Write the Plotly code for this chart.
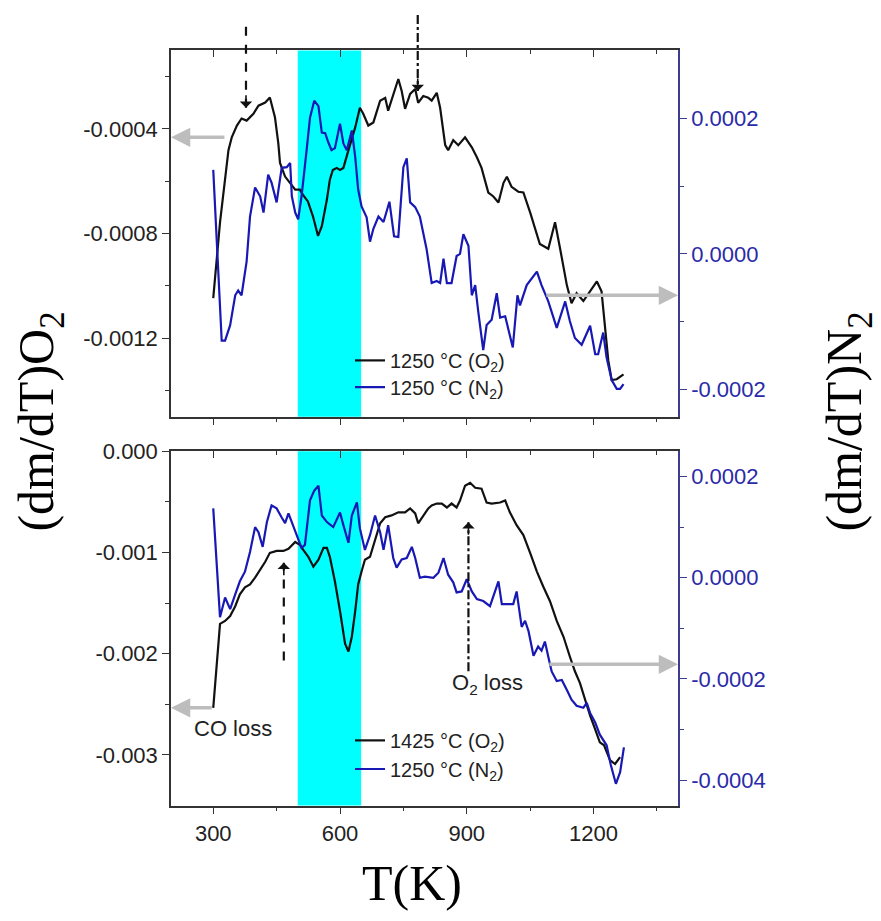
import plotly.graph_objects as go

# ---------------- data ----------------
# top panel: 1250 °C sample in O2 (left axis)
top_o2_T = [300, 316, 336, 344, 356, 367, 379, 395, 407, 423, 434, 446, 454, 458, 470, 482, 494, 505, 512, 524,
            536, 548, 557, 569, 576, 583, 592, 600, 608, 620, 636, 647, 655, 667, 679, 695, 707, 714, 726, 738,
            746, 754, 766, 778, 785, 797, 809, 817, 829, 837, 849, 856, 868, 880, 896, 912, 924, 935, 951, 963,
            975, 987, 995, 1006, 1022, 1034, 1050, 1062, 1073, 1093, 1109, 1121, 1137, 1148, 1160, 1176, 1192, 1208, 1219, 1227,
            1235, 1243, 1255, 1271]
top_o2_dmdT = [-0.001047, -0.000757, -0.000481, -0.000431, -0.000387, -0.000360, -0.000368, -0.000342, -0.000311, -0.000299,
               -0.000280, -0.000355, -0.000455, -0.000530, -0.000582, -0.000606, -0.000632, -0.000632, -0.000651, -0.000677,
               -0.000734, -0.000809, -0.000772, -0.000670, -0.000594, -0.000557, -0.000549, -0.000557, -0.000549, -0.000481,
               -0.000394, -0.000319, -0.000342, -0.000387, -0.000375, -0.000292, -0.000281, -0.000330, -0.000266, -0.000209,
               -0.000255, -0.000323, -0.000266, -0.000247, -0.000300, -0.000274, -0.000281, -0.000292, -0.000262, -0.000319,
               -0.000462, -0.000481, -0.000443, -0.000462, -0.000432, -0.000470, -0.000508, -0.000549, -0.000643, -0.000658,
               -0.000681, -0.000606, -0.000583, -0.000621, -0.000640, -0.000643, -0.000719, -0.000783, -0.000840, -0.000858,
               -0.000757, -0.000858, -0.000998, -0.001066, -0.001028, -0.001058, -0.001021, -0.000983, -0.001021, -0.001160,
               -0.001285, -0.001360, -0.001357, -0.001338]

# top panel: 1250 °C sample in N2 (right axis)
top_n2_T = [300, 308, 312, 320, 328, 340, 352, 359, 367, 379, 387, 399, 411, 419, 430, 438, 450, 462, 474, 482,
            486, 494, 501, 509, 521, 529, 539, 549, 557, 565, 572, 580, 588, 600, 608, 616, 628, 636, 643, 651,
            663, 671, 679, 691, 703, 717, 728, 738, 750, 758, 766, 778, 789, 805, 817, 829, 837, 845, 853, 864,
            876, 884, 892, 904, 912, 920, 927, 939, 947, 959, 971, 979, 991, 1002, 1009, 1020, 1026, 1042, 1054, 1066,
            1077, 1093, 1113, 1133, 1144, 1156, 1172, 1192, 1204, 1211, 1223, 1231, 1243, 1255, 1263, 1271]
top_n2_dmdT = [0.000124, 0.000018, -0.000041, -0.000128, -0.000128, -0.000105, -0.000061, -0.000054, -0.000061, -0.000011,
               0.000055, 0.000098, 0.000085, 0.000061, 0.000117, 0.000105, 0.000076, 0.000127, 0.000128, 0.000134,
               0.000085, 0.000061, 0.000051, 0.000085, 0.000153, 0.000201, 0.000226, 0.000218, 0.000179, 0.000178,
               0.000165, 0.000153, 0.000156, 0.000192, 0.000163, 0.000153, 0.000182, 0.000143, 0.000095, 0.000070,
               0.000054, 0.000018, 0.000037, 0.000055, 0.000047, 0.000077, 0.000026, 0.000025, 0.000128, 0.000141,
               0.000076, 0.000069, 0.000055, 0.000007, -0.000043, -0.000040, -0.000043, -0.000007, -0.000043, -0.000043,
               -0.000003, 0.000000, 0.000029, 0.000012, -0.000061, -0.000046, -0.000084, -0.000142, -0.000105, -0.000097,
               -0.000058, -0.000094, -0.000092, -0.000119, -0.000138, -0.000061, -0.000076, -0.000046, -0.000036, -0.000026,
               -0.000046, -0.000070, -0.000109, -0.000070, -0.000099, -0.000124, -0.000134, -0.000106, -0.000148, -0.000148,
               -0.000116, -0.000153, -0.000186, -0.000199, -0.000199, -0.000192]

# bottom panel: 1425 °C sample in O2 (left axis)
bot_o2_T = [300, 308, 316, 328, 340, 352, 363, 375, 387, 399, 411, 423, 434, 450, 466, 478, 494, 505, 513, 525,
            537, 549, 561, 569, 576, 588, 600, 612, 620, 628, 636, 643, 651, 659, 671, 683, 695, 707, 722, 738,
            754, 766, 778, 785, 797, 809, 817, 829, 841, 853, 864, 876, 884, 896, 908, 920, 935, 947, 959, 979,
            991, 1002, 1018, 1034, 1050, 1066, 1081, 1097, 1113, 1129, 1144, 1156, 1168, 1180, 1192, 1204, 1215, 1225, 1239, 1251,
            1263]
bot_o2_dmdT = [-0.002535, -0.002096, -0.001706, -0.001677, -0.001628, -0.001531, -0.001414, -0.001345, -0.001316, -0.001248,
               -0.001170, -0.001092, -0.001004, -0.000985, -0.000985, -0.000965, -0.000897, -0.000926, -0.000975, -0.001043,
               -0.001141, -0.001072, -0.000955, -0.000955, -0.001043, -0.001287, -0.001579, -0.001901, -0.001979, -0.001833,
               -0.001579, -0.001316, -0.001189, -0.001072, -0.001043, -0.000877, -0.000712, -0.000653, -0.000634, -0.000604,
               -0.000604, -0.000565, -0.000614, -0.000712, -0.000634, -0.000565, -0.000536, -0.000517, -0.000517, -0.000556,
               -0.000517, -0.000556, -0.000487, -0.000341, -0.000312, -0.000361, -0.000370, -0.000507, -0.000517, -0.000507,
               -0.000487, -0.000604, -0.000731, -0.000829, -0.001004, -0.001189, -0.001336, -0.001482, -0.001677, -0.001833,
               -0.002028, -0.002174, -0.002291, -0.002457, -0.002613, -0.002749, -0.002876, -0.002905, -0.003051, -0.003090,
               -0.003022]

# bottom panel: 1250 °C sample in N2 (right axis)
bot_n2_T = [300, 308, 316, 328, 340, 352, 363, 375, 387, 399, 407, 417, 427, 438, 450, 462, 470, 478, 486, 498,
            509, 517, 529, 539, 549, 557, 569, 584, 600, 608, 620, 628, 640, 647, 659, 671, 683, 695, 703, 714,
            726, 734, 746, 758, 770, 778, 789, 801, 821, 833, 845, 856, 868, 876, 888, 900, 912, 924, 939, 955,
            967, 975, 983, 998, 1010, 1018, 1026, 1030, 1038, 1046, 1058, 1069, 1077, 1085, 1093, 1101, 1113, 1125, 1137, 1148,
            1160, 1176, 1184, 1192, 1204, 1215, 1231, 1241, 1253, 1263, 1272]
bot_n2_dmdT = [0.000137, 0.000039, -0.000078, -0.000039, -0.000062, -0.000033, -0.000007, 0.000012, 0.000051, 0.000100,
               0.000090, 0.000061, 0.000110, 0.000143, 0.000137, 0.000119, 0.000108, 0.000127, 0.000110, 0.000084,
               0.000059, 0.000065, 0.000153, 0.000172, 0.000182, 0.000123, 0.000110, 0.000100, 0.000129, 0.000104,
               0.000069, 0.000123, 0.000149, 0.000098, 0.000055, 0.000084, 0.000123, 0.000090, 0.000055, 0.000104,
               0.000039, 0.000020, 0.000036, 0.000039, 0.000061, 0.000039, 0.000000, 0.000002, 0.000000, 0.000010,
               0.000039, 0.000006, -0.000009, -0.000029, -0.000027, -0.000003, -0.000027, -0.000042, -0.000046, -0.000056,
               -0.000029, -0.000007, -0.000052, -0.000052, -0.000052, -0.000027, -0.000078, -0.000097, -0.000085, -0.000105,
               -0.000154, -0.000136, -0.000144, -0.000126, -0.000156, -0.000185, -0.000204, -0.000202, -0.000222, -0.000241,
               -0.000253, -0.000257, -0.000247, -0.000267, -0.000286, -0.000310, -0.000331, -0.000370, -0.000407, -0.000384,
               -0.000335]

# highlighted temperature window (K)
band_T = [500, 650]

# tick values / labels
x_tickvals = [300, 600, 900, 1200]
x_ticktext = ["300", "600", "900", "1200"]
x_minor = [450, 750, 1050, 1350]
top_left_tickvals = [-0.0004, -0.0008, -0.0012]
top_left_ticktext = ["-0.0004", "-0.0008", "-0.0012"]
top_left_minor = [-0.0002, -0.0006, -0.0010, -0.0014]
top_right_tickvals = [0.0002, 0.0, -0.0002]
top_right_ticktext = ["0.0002", "0.0000", "-0.0002"]
top_right_minor = [0.0001, -0.0001]
bot_left_tickvals = [0.0, -0.001, -0.002, -0.003]
bot_left_ticktext = ["0.000", "-0.001", "-0.002", "-0.003"]
bot_left_minor = [-0.0005, -0.0015, -0.0025]
bot_right_tickvals = [0.0002, 0.0, -0.0002, -0.0004]
bot_right_ticktext = ["0.0002", "0.0000", "-0.0002", "-0.0004"]
bot_right_minor = [0.0001, -0.0001, -0.0003]

# ---------------- styling ----------------
W, H = 881, 921
XDOM = [171 / W, 678 / W]
TOP_DOM = [1 - 410 / H, 1 - 39 / H]
BOT_DOM = [1 - 804 / H, 1 - 445 / H]
XR = [200, 1400]
BLACK = "#111111"
BLUE = "#1818b4"
AX = "#333333"
RAX = "#3d3d8f"
RTXT = "#2a2aa8"
GRAY = "#bdbdbd"
SANS = "Liberation Sans, Arial, sans-serif"
SERIF = "Liberation Serif, Times New Roman, serif"
TICKF = dict(family=SANS, size=22, color="#222222")
RTICKF = dict(family=SANS, size=22, color=RTXT)
LEGF = dict(family=SANS, size=20, color="#222222")

fig = go.Figure()

fig.add_trace(go.Scatter(x=top_o2_T, y=top_o2_dmdT, xaxis="x2", yaxis="y3", mode="lines",
                         line=dict(color=BLACK, width=2.2), name="1250 °C (O<sub>2</sub>)", legend="legend"))
fig.add_trace(go.Scatter(x=top_n2_T, y=top_n2_dmdT, xaxis="x2", yaxis="y4", mode="lines",
                         line=dict(color=BLUE, width=2.2), name="1250 °C (N<sub>2</sub>)", legend="legend2"))
fig.add_trace(go.Scatter(x=bot_o2_T, y=bot_o2_dmdT, xaxis="x", yaxis="y", mode="lines",
                         line=dict(color=BLACK, width=2.2), name="1425 °C (O<sub>2</sub>)", legend="legend3"))
fig.add_trace(go.Scatter(x=bot_n2_T, y=bot_n2_dmdT, xaxis="x", yaxis="y2", mode="lines",
                         line=dict(color=BLUE, width=2.2), name="1250 °C (N<sub>2</sub>)", legend="legend4"))
# carriers for the top-border axes
fig.add_trace(go.Scatter(x=[None], y=[None], xaxis="x3", yaxis="y", showlegend=False, hoverinfo="skip"))
fig.add_trace(go.Scatter(x=[None], y=[None], xaxis="x4", yaxis="y3", showlegend=False, hoverinfo="skip"))


def xax(anchor, side, ticks, labels, overlay=None):
    d = dict(domain=XDOM, anchor=anchor, range=XR, side=side, showline=True, linecolor=AX, linewidth=1.5,
             ticks=ticks, ticklen=7, tickwidth=1.3, tickcolor=AX, tickmode="array", tickvals=x_tickvals,
             ticktext=x_ticktext, showticklabels=labels, tickfont=TICKF, showgrid=False, zeroline=False,
             minor=dict(ticks=ticks, ticklen=4, tickwidth=1.2, tickcolor=AX, tickmode="array", tickvals=x_minor))
    if overlay:
        d["overlaying"] = overlay
    return d


def yax(dom, anchor, rng, tv, tt, mn, side, lc, tf, overlay=None):
    d = dict(domain=dom, anchor=anchor, range=rng, side=side, showline=True, linecolor=lc, linewidth=1.5,
             ticks="outside", ticklen=7, tickwidth=1.3, tickcolor=lc, tickmode="array", tickvals=tv, ticktext=tt,
             tickfont=tf, showgrid=False, zeroline=False,
             minor=dict(ticks="outside", ticklen=4, tickwidth=1.2, tickcolor=lc, tickmode="array", tickvals=mn))
    if overlay:
        d["overlaying"] = overlay
    return d


def leg(ypix):
    return dict(x=350 / W, y=1 - ypix / H, xanchor="left", yanchor="middle", bgcolor="rgba(0,0,0,0)",
                font=LEGF, borderwidth=0)


fig.update_layout(
    width=W, height=H, margin=dict(l=0, r=0, t=0, b=0),
    paper_bgcolor="white", plot_bgcolor="white",
    xaxis=xax("y", "bottom", "outside", True),
    xaxis2=xax("y3", "bottom", "outside", False),
    xaxis3=xax("y", "top", "inside", False, overlay="x"),
    xaxis4=xax("y3", "top", "inside", False, overlay="x2"),
    yaxis=yax(BOT_DOM, "x", [-0.0035, 0.0], bot_left_tickvals, bot_left_ticktext, bot_left_minor, "left", AX, TICKF),
    yaxis2=yax(BOT_DOM, "x", [-0.00045, 0.00025], bot_right_tickvals, bot_right_ticktext, bot_right_minor,
               "right", RAX, RTICKF, overlay="y"),
    yaxis3=yax(TOP_DOM, "x2", [-0.0015, -0.0001], top_left_tickvals, top_left_ticktext, top_left_minor, "left", AX, TICKF),
    yaxis4=yax(TOP_DOM, "x2", [-0.00024, 0.0003], top_right_tickvals, top_right_ticktext, top_right_minor,
               "right", RAX, RTICKF, overlay="y3"),
    legend=leg(353),
    legend2=leg(380),
    legend3=leg(738),
    legend4=leg(767),
    showlegend=True,
)

# highlighted band in both panels
fig.add_shape(type="rect", xref="x2", yref="y3 domain", x0=band_T[0], x1=band_T[1], y0=0, y1=1,
              fillcolor="#00ffff", line=dict(width=0), layer="below")
fig.add_shape(type="rect", xref="x", yref="y domain", x0=band_T[0], x1=band_T[1], y0=0, y1=1,
              fillcolor="#00ffff", line=dict(width=0), layer="below")


# grey arrows pointing to the relevant axis
def grey_arrow(xr, yr, x_head, x_tail, yv):
    fig.add_annotation(x=x_head, y=yv, ax=x_tail, ay=yv, xref=xr, yref=yr, axref=xr, ayref=yr,
                       text="", showarrow=True, arrowhead=2, arrowsize=1.1, arrowwidth=3.5, arrowcolor=GRAY)


grey_arrow("x2", "y3", 200, 330, -0.000432)
grey_arrow("x2", "y4", 1400, 1085, -0.000061)
grey_arrow("x", "y", 200, 300, -0.002535)
grey_arrow("x", "y2", 1400, 1092, -0.000171)


# black dashed marker arrows
def marker_arrow(xr, xv, y_tail, y_tip, dash):
    fig.add_shape(type="line", xref=xr, yref="paper", x0=xv, x1=xv, y0=y_tail, y1=y_tip,
                  line=dict(color=BLACK, width=2.2, dash=dash))
    direction = 1 if y_tip > y_tail else -1
    fig.add_annotation(x=xv, y=y_tip, xref=xr, yref="paper", ax=0, ay=14 * direction, text="",
                       showarrow=True, arrowhead=1, arrowsize=1.3, arrowwidth=1.6, arrowcolor=BLACK)


marker_arrow("x2", 377.5, 1 - 15 / H, 1 - 97 / H, "dash")
marker_arrow("x2", 784, 1 - 3 / H, 1 - 80 / H, "dashdot")
marker_arrow("x", 467, 1 - 657 / H, 1 - 558 / H, "dash")
marker_arrow("x", 904, 1 - 668 / H, 1 - 517 / H, "dashdot")

# text labels
fig.add_annotation(x=347, y=1 - 726 / H, xref="x", yref="paper", text="CO loss", showarrow=False,
                   xanchor="center", yanchor="middle", font=dict(family=SANS, size=22, color="#222222"))
fig.add_annotation(x=948, y=1 - 681 / H, xref="x", yref="paper", text="O<sub>2</sub> loss", showarrow=False,
                   xanchor="center", yanchor="middle", font=dict(family=SANS, size=22, color="#222222"))

# axis titles
fig.add_annotation(x=40 / W, y=1 - 415 / H, xref="paper", yref="paper", text="(dm/dT)O<sub>2</sub>",
                   textangle=-90, showarrow=False, xanchor="center", yanchor="middle",
                   font=dict(family=SERIF, size=50, color="black"))
fig.add_annotation(x=848 / W, y=1 - 415 / H, xref="paper", yref="paper", text="(dm/dT)N<sub>2</sub>",
                   textangle=-90, showarrow=False, xanchor="center", yanchor="middle",
                   font=dict(family=SERIF, size=50, color="black"))
fig.add_annotation(x=412 / W, y=1 - 882 / H, xref="paper", yref="paper", text="T(K)",
                   showarrow=False, xanchor="center", yanchor="middle",
                   font=dict(family=SERIF, size=50, color="black"))

fig.write_html("out.html")
